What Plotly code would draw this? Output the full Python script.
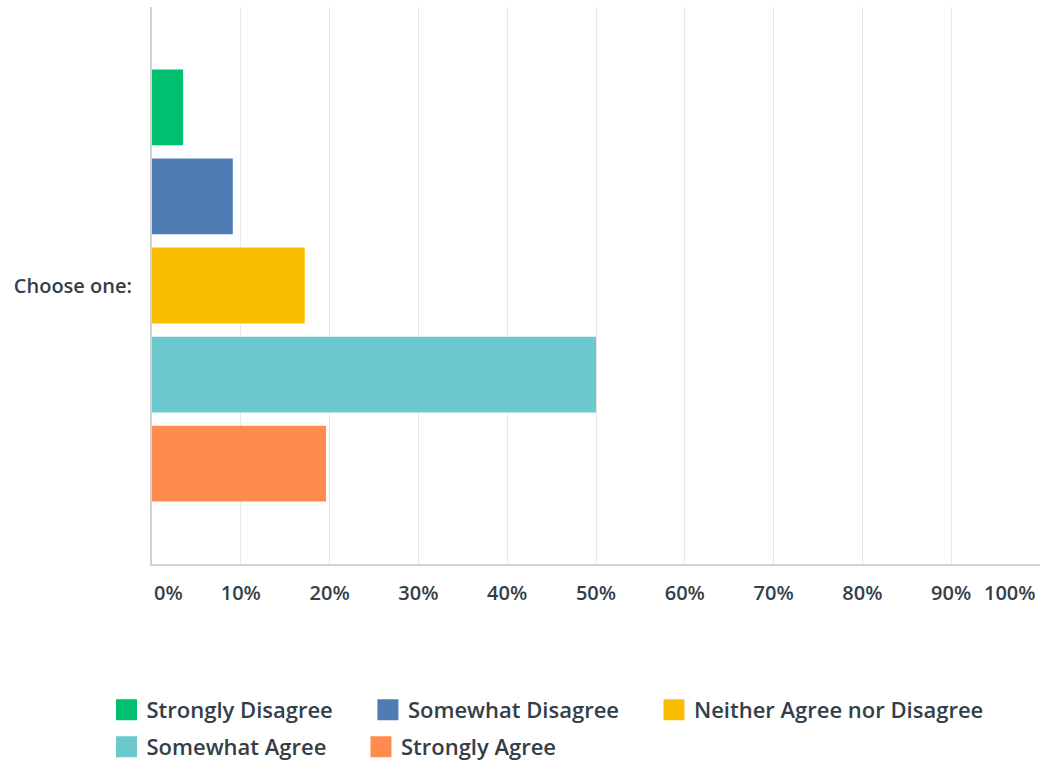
import plotly.graph_objects as go

# answer options and share of respondents (%)
answers = ["Strongly Disagree", "Somewhat Disagree", "Neither Agree nor Disagree",
           "Somewhat Agree", "Strongly Agree"]
shares = [3.5, 9.1, 17.2, 50.0, 19.6]
colors = ["#00BF6F", "#507CB6", "#F9BE00", "#6BC8CD", "#FF8B4F"]
question = "Choose one:"
tick_vals = list(range(0, 101, 10))

# legend entry placement (container fractions), one small legend per entry
legend_x = [0.1022, 0.3531, 0.6276, 0.1022, 0.3464]
legend_y = [0.0719, 0.0719, 0.0719, 0.0235, 0.0235]

text_color = "#333E48"
font = dict(family="Open Sans", size=20, color=text_color, weight=600)
legend_font = dict(family="Open Sans", size=22, color=text_color, weight=600)

fig = go.Figure()

for i, (name, val, col) in enumerate(zip(answers, shares, colors)):
    fig.add_bar(x=[val], y=[question], orientation="h", name=name,
                marker=dict(color=col, line=dict(width=0)),
                showlegend=False, hoverinfo="x+name")
    lg = "legend" if i == 0 else f"legend{i + 1}"
    fig.add_scatter(x=[None], y=[None], mode="markers", name=name, legend=lg,
                    marker=dict(symbol="square", size=16, color=col,
                                line=dict(color=col, width=5)))
    fig.update_layout({lg: dict(xref="container", yref="container",
                                x=legend_x[i], y=legend_y[i],
                                xanchor="left", yanchor="middle",
                                font=legend_font, itemsizing="trace",
                                bgcolor="rgba(0,0,0,0)")})

tick_text = [f"{v}%" for v in tick_vals]
tick_text[0] = ""
tick_text[-1] = ""

fig.update_layout(
    width=1042, height=765,
    margin=dict(l=152, r=2, t=7, b=201, autoexpand=False),
    plot_bgcolor="white", paper_bgcolor="white",
    barmode="group", bargap=0.2, bargroupgap=0.15,
    font=font,
    showlegend=True,
    xaxis=dict(range=[0, 100], tickvals=tick_vals, ticktext=tick_text,
               showgrid=True, gridcolor="#E8E8E8", gridwidth=1,
               showline=True, linecolor="#D0D0D0", linewidth=2,
               zeroline=False, ticks="", ticklabelstandoff=10,
               automargin=False, fixedrange=True),
    yaxis=dict(autorange="reversed", showline=True, linecolor="#D0D0D0", linewidth=2,
               showgrid=False, ticks="", ticklabelstandoff=14,
               automargin=False, fixedrange=True),
)

# end labels sit inside the axis span
fig.add_annotation(x=0, y=0, xref="x", yref="paper", text="0%", showarrow=False,
                   xanchor="left", yanchor="middle", yshift=-28)
fig.add_annotation(x=100, y=0, xref="x", yref="paper", text="100%", showarrow=False,
                   xanchor="right", yanchor="middle", yshift=-28, xshift=-2)

# drop the default page margin so the figure sits at the window corner
fig.write_html("out.html", config={"displayModeBar": False},
               post_script="document.body.style.margin='0';")
